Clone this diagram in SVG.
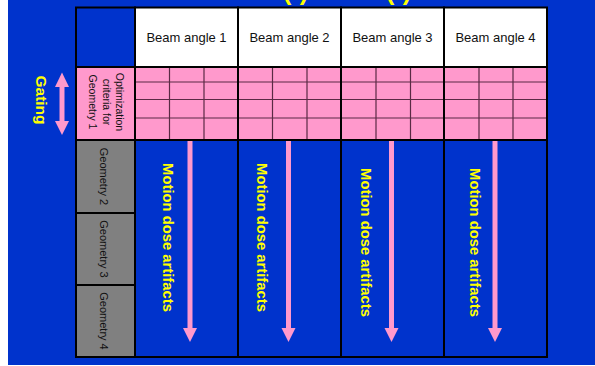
<svg xmlns="http://www.w3.org/2000/svg" width="595" height="366" viewBox="0 0 595 366">
  <style>
    .cell { stroke: #000; stroke-width: 2; }
    .blue { fill: #0033CC; }
    .white { fill: #FFFFFF; }
    .pink { fill: #FF99CC; }
    .gray { fill: #808080; }
    .sub { stroke: #5a2a44; stroke-width: 1.2; fill: none; }
    .hdr { font-family: "Liberation Sans", Arial, sans-serif; font-size: 13px; fill: #111; text-anchor: middle; }
    .lbl { font-family: "Liberation Sans", Arial, sans-serif; font-size: 10.5px; fill: #111; text-anchor: middle; }
    .geo { font-family: "Liberation Sans", Arial, sans-serif; font-size: 11px; fill: #111; text-anchor: middle; }
    .mot { font-family: "Liberation Sans", Arial, sans-serif; font-size: 14.8px; font-weight: bold; fill: #FFFF00; text-anchor: middle; }
    .arr { stroke: #FF99CC; stroke-width: 5; fill: none; }
    .head { fill: #FF99CC; }
  </style>
  <rect x="0" y="0" width="595" height="366" fill="#FFFFFF"/>
  <rect x="8" y="0" width="587" height="365" class="blue"/>

  <g id="title">
    <text y="-0.5" font-family="Liberation Sans, Arial, sans-serif" font-size="25" font-weight="bold" fill="#FFFF00"><tspan x="204">Doses</tspan><tspan x="283">(t)</tspan><tspan x="318">=</tspan><tspan x="350">D</tspan><tspan x="386">(t)</tspan></text>
  </g>

  <g id="gating">
    <text transform="translate(36,100) rotate(90)" font-family="Liberation Sans, Arial, sans-serif" font-size="15.5" font-weight="bold" fill="#FFFF00" text-anchor="middle">Gating</text>
    <line x1="62" y1="84" x2="62" y2="124" class="arr"/>
    <polygon points="62,72.5 55,87 69,87" class="head"/>
    <polygon points="62,135 55,121 69,121" class="head"/>
  </g>

  <g id="corner"><rect x="76" y="7.5" width="59" height="59.5" class="cell blue"/></g>

  <g id="beam1"><rect x="135" y="7.5" width="103" height="59.5" class="cell white"/><text x="186.5" y="42" class="hdr">Beam angle 1</text></g>
  <g id="beam2"><rect x="238" y="7.5" width="103" height="59.5" class="cell white"/><text x="289.5" y="42" class="hdr">Beam angle 2</text></g>
  <g id="beam3"><rect x="341" y="7.5" width="103" height="59.5" class="cell white"/><text x="392.5" y="42" class="hdr">Beam angle 3</text></g>
  <g id="beam4"><rect x="444" y="7.5" width="103" height="59.5" class="cell white"/><text x="495.5" y="42" class="hdr">Beam angle 4</text></g>

  <g id="geometry1">
    <rect x="76" y="67" width="59" height="73" class="cell pink"/>
    <text transform="translate(120,102) rotate(90)" y="3.7" class="lbl">Optimization</text>
    <text transform="translate(106.5,102) rotate(90)" y="3.7" class="lbl">criteria for</text>
    <text transform="translate(93,102) rotate(90)" y="3.7" class="lbl">Geometry 1</text>
  </g>

  <g id="criteria-grid">
    <rect x="135" y="67" width="412" height="73" class="pink"/>
    <path class="sub" d="M135,82 H547 M135,99.5 H547 M135,118 H547 M169.5,67 V140 M204,67 V140 M272.5,67 V140 M307,67 V140 M376,67 V140 M410.5,67 V140 M479,67 V140 M513,67 V140"/>
    <path d="M238,67 V140 M341,67 V140 M444,67 V140" stroke="#000" stroke-width="2" fill="none"/>
    <rect x="135" y="67" width="412" height="73" fill="none" stroke="#000" stroke-width="2"/>
  </g>

  <g id="geometry2"><rect x="76" y="140" width="59" height="73" class="cell gray"/><text transform="translate(104,176.5) rotate(90)" y="3.8" class="geo">Geometry 2</text></g>
  <g id="geometry3"><rect x="76" y="213" width="59" height="72" class="cell gray"/><text transform="translate(104,249) rotate(90)" y="3.8" class="geo">Geometry 3</text></g>
  <g id="geometry4"><rect x="76" y="285" width="59" height="72" class="cell gray"/><text transform="translate(104,321) rotate(90)" y="3.8" class="geo">Geometry 4</text></g>

  <g id="col1"><rect x="135" y="140" width="103" height="217" class="cell blue"/><text transform="translate(168,237.5) rotate(90)" y="5.3" class="mot">Motion dose artifacts</text></g>
  <g id="col2"><rect x="238" y="140" width="103" height="217" class="cell blue"/><text transform="translate(262,237.5) rotate(90)" y="5.3" class="mot">Motion dose artifacts</text></g>
  <g id="col3"><rect x="341" y="140" width="103" height="217" class="cell blue"/><text transform="translate(366,242.5) rotate(90)" y="5.3" class="mot">Motion dose artifacts</text></g>
  <g id="col4"><rect x="444" y="140" width="103" height="217" class="cell blue"/><text transform="translate(475,242.5) rotate(90)" y="5.3" class="mot">Motion dose artifacts</text></g>

  <g id="connectors">
    <line x1="190" y1="141" x2="190" y2="330" class="arr"/>
    <polygon points="190,342 183,328 197,328" class="head"/>
    <line x1="288.5" y1="141" x2="288.5" y2="330" class="arr"/>
    <polygon points="288.5,342 281.5,328 295.5,328" class="head"/>
    <line x1="391.5" y1="141" x2="391.5" y2="330" class="arr"/>
    <polygon points="391.5,342 384.5,328 398.5,328" class="head"/>
    <line x1="495" y1="141" x2="495" y2="330" class="arr"/>
    <polygon points="495,342 488,328 502,328" class="head"/>
  </g>
</svg>
